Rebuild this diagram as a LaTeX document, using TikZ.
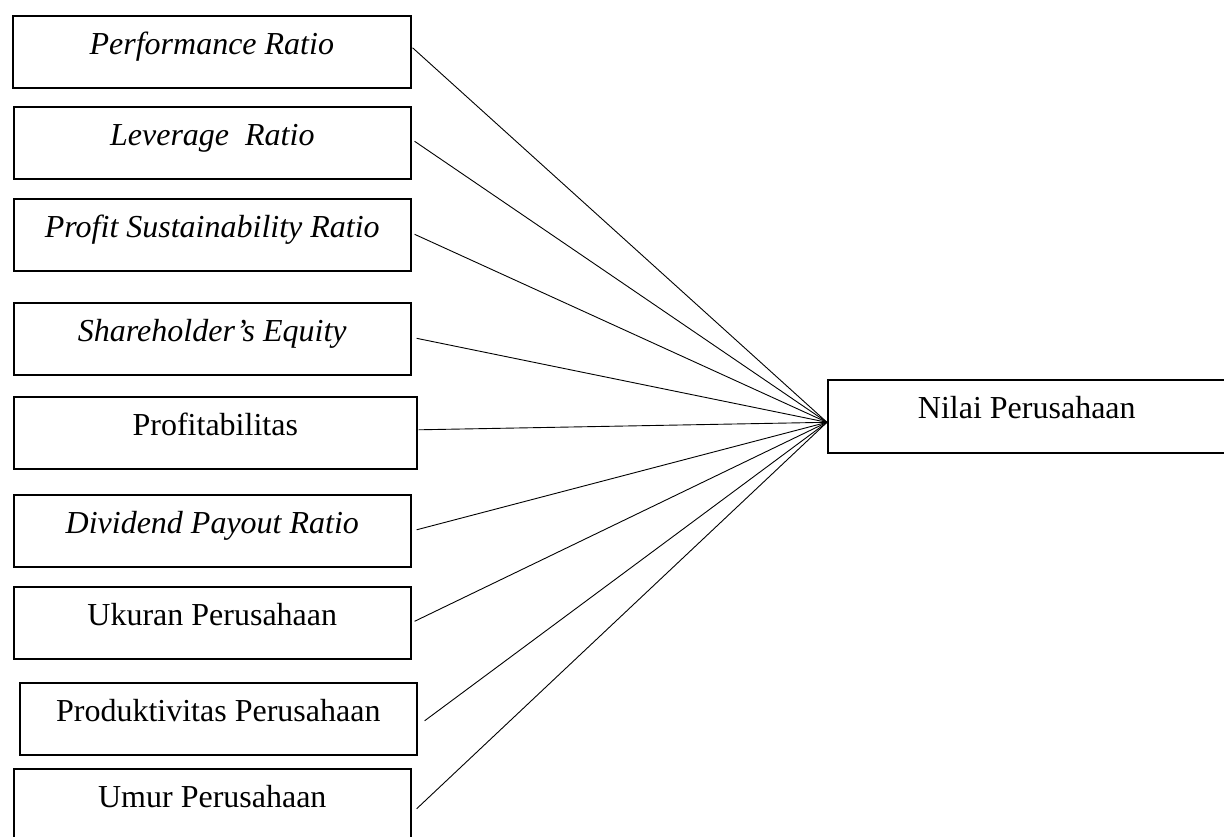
\documentclass[tikz,border=0pt]{standalone}
\usepackage{fontspec}
\setmainfont{Liberation Serif}
\begin{document}
\begin{tikzpicture}[x=1pt,y=-1pt,
  box/.style={draw, line width=1.6pt, inner sep=0pt, anchor=north west,
    text height=39pt, text depth=33pt, align=center,
    font=\fontsize{32}{37}\selectfont},
  conn/.style={line width=0.9pt}]
\useasboundingbox (0,0) rectangle (1224,837);
\clip (0,0) rectangle (1224,837);
\node[box, minimum width=398pt] (b1) at (12,15) {\itshape Performance Ratio};
\node[box, minimum width=397pt] (b2) at (13,106) {\itshape Leverage~~Ratio};
\node[box, minimum width=397pt] (b3) at (13,198) {\itshape Profit Sustainability Ratio};
\node[box, minimum width=397pt] (b4) at (13,302) {\itshape Shareholder’s Equity};
\node[box, minimum width=403pt] (b5) at (13,396) {Profitabilitas};
\node[box, minimum width=397pt] (b6) at (13,494) {\itshape Dividend Payout Ratio};
\node[box, minimum width=397pt] (b7) at (13,586) {Ukuran Perusahaan};
\node[box, minimum width=397pt] (b8) at (19,682) {Produktivitas Perusahaan};
\node[box, minimum width=397pt] (b9) at (13,768) {Umur Perusahaan};
\node[box, minimum width=398pt, text depth=34pt] (nilai) at (827,379) {Nilai Perusahaan};
\coordinate (hub) at ([yshift=-6pt]nilai.west);
\draw[conn] ([shift={(1,-4)}]b1.east) -- (hub);
\draw[conn] ([shift={(3,-1.5)}]b2.east) -- (hub);
\draw[conn] ([shift={(3,-0.5)}]b3.east) -- (hub);
\draw[conn] ([shift={(5,-0.5)}]b4.east) -- (hub);
\draw[conn] ([shift={(1,-3)}]b5.east) -- (hub);
\draw[conn] ([shift={(5,-1)}]b6.east) -- (hub);
\draw[conn] ([shift={(3,-1.5)}]b7.east) -- (hub);
\draw[conn] ([shift={(7,2)}]b8.east) -- (hub);
\draw[conn] ([shift={(5,4)}]b9.east) -- (hub);
\end{tikzpicture}
\end{document}
